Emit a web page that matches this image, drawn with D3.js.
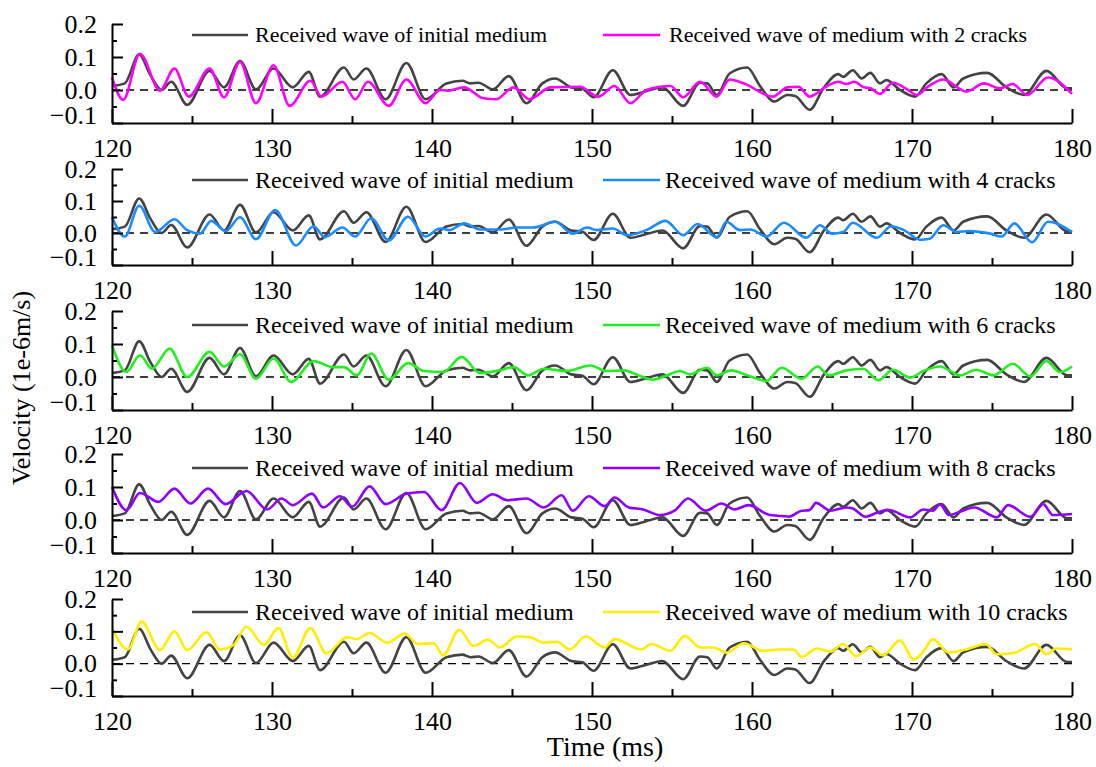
<!DOCTYPE html>
<html>
<head>
<meta charset="utf-8">
<script src="https://cdn.jsdelivr.net/npm/d3@7"></script>
<style>
  body { margin: 0; background: #fff; }
  text { font-family: "Liberation Serif", "Times New Roman", serif; fill: #000; }
</style>
</head>
<body>
<svg id="chart" width="1096" height="767"></svg>
<script>
// axis values
const timeDomain = [120, 180];
const velocityDomain = [-0.1, 0.2];
const timeTicks = [120, 130, 140, 150, 160, 170, 180];
const timeMinorTicks = [125, 135, 145, 155, 165, 175];
const velocityTicks = [-0.1, 0.0, 0.1, 0.2];
const velocityMinorTicks = [-0.05, 0.05, 0.15];

// received wave of initial medium [time ms, velocity 1e-6 m/s]
const initialWave = [
  [120, 0.012], [120.8, 0.02], [121.7, 0.108], [122.4, 0.045], [123.1, 0.0], [123.7, 0.025],
  [124.7, -0.045], [126.1, 0.058], [127.0, 0.008], [128.0, 0.088], [129.0, 0.002], [130.1, 0.065],
  [131.3, 0.008], [132.3, 0.055], [133.0, -0.02], [134.5, 0.068], [135.1, 0.032], [135.9, 0.065],
  [137.1, -0.028], [138.4, 0.082], [139.6, -0.028], [140.9, 0.02], [141.9, 0.028], [142.4, 0.02],
  [142.9, 0.022], [143.8, 0.002], [144.8, 0.042], [145.9, -0.04], [146.9, 0.02], [147.7, 0.035],
  [148.7, 0.008], [149.4, 0.004], [150.1, -0.022], [151.3, 0.06], [152.4, -0.015], [153.3, -0.005],
  [154.4, 0.008], [155.7, -0.048], [156.75, 0.022], [157.2, 0.02], [157.8, -0.015], [158.6, 0.05],
  [159.7, 0.068], [160.5, 0.012], [161.4, -0.035], [162.2, -0.015], [162.7, -0.018], [163.6, -0.06],
  [164.5, 0.008], [165.4, 0.048], [165.7, 0.04], [166.3, 0.06], [166.85, 0.035], [167.4, 0.052],
  [168.0, 0.02], [168.4, 0.03], [169.25, 0.0], [170.2, -0.02], [170.9, 0.02], [171.85, 0.048],
  [172.6, 0.008], [173.2, 0.035], [174.7, 0.052], [175.9, 0.008], [177.0, -0.015], [178.4, 0.058],
  [179.7, 0.005], [180, 0.005]
];

const crack2Wave = [
  [120, 0.038], [120.7, -0.03], [121.75, 0.11], [123.0, -0.002], [123.9, 0.065], [124.8, -0.02],
  [126.1, 0.065], [127.0, -0.022], [128.0, 0.085], [129.0, -0.04], [130.1, 0.075], [131.1, -0.048],
  [132.4, 0.028], [133.1, -0.02], [134.4, 0.025], [135.2, -0.028], [136.0, 0.025], [137.3, -0.048],
  [138.4, 0.032], [139.6, -0.04], [140.5, 0.0], [141.0, -0.002], [142.0, 0.008], [143.2, -0.025],
  [144.0, -0.028], [145.1, 0.008], [146.1, -0.028], [147.4, 0.008], [149.25, 0.01], [150.4, -0.02],
  [151.4, 0.012], [152.4, -0.04], [153.4, 0.0], [154.9, 0.012], [155.7, -0.022], [156.75, 0.025],
  [157.8, -0.02], [158.6, 0.032], [159.5, 0.02], [161.3, -0.02], [162.2, 0.008], [162.9, 0.01],
  [163.6, -0.02], [164.7, 0.012], [165.4, 0.025], [165.9, 0.018], [166.4, 0.025], [167.0, 0.008],
  [167.4, 0.005], [168.0, -0.012], [168.8, 0.022], [169.7, 0.002], [170.3, -0.015], [171.0, 0.01],
  [171.95, 0.032], [173.4, -0.005], [174.5, 0.02], [175.5, 0.005], [176.3, 0.018], [177.2, -0.015],
  [178.5, 0.038], [180, -0.012]
];

const crack4Wave = [
  [120, 0.049], [120.8, -0.011], [121.7, 0.085], [122.7, 0.003], [123.9, 0.043], [124.7, 0.009],
  [125.5, -0.002], [126.2, 0.038], [127.1, 0.006], [128.0, 0.049], [129.0, -0.019], [130.2, 0.072],
  [131.5, -0.039], [132.6, 0.021], [133.3, -0.013], [134.4, 0.017], [135.2, -0.011], [136.2, 0.046],
  [137.3, -0.023], [138.5, 0.051], [139.6, -0.011], [140.5, 0.014], [141.1, 0.009], [142.0, 0.03],
  [143.0, 0.011], [144.3, 0.011], [145.3, 0.017], [146.3, 0.017], [147.7, 0.035], [148.8, -0.002],
  [149.7, 0.017], [150.3, 0.009], [151.3, 0.014], [152.2, -0.007], [153.4, 0.009], [154.6, 0.038],
  [155.7, -0.007], [156.6, 0.028], [157.8, -0.013], [158.4, 0.035], [159.25, 0.009], [159.9, 0.011],
  [160.9, -0.011], [162.0, 0.032], [163.4, -0.015], [164.25, 0.024], [165.0, -0.002], [165.7, 0.003],
  [166.3, 0.032], [167.8, -0.015], [168.7, 0.021], [169.5, 0.009], [170.5, -0.021], [171.1, -0.018],
  [171.95, 0.024], [172.8, 0.003], [173.6, 0.006], [174.9, -0.002], [175.6, -0.011], [176.4, 0.03],
  [177.5, -0.029], [178.5, 0.035], [180, 0.003]
];

const crack6Wave = [
  [120, 0.096], [120.9, 0.015], [121.75, 0.066], [122.5, 0.025], [123.6, 0.086], [124.7, 0.0],
  [126.1, 0.076], [127.0, 0.032], [128.0, 0.069], [129.0, -0.005], [130.1, 0.056], [131.2, -0.015],
  [132.6, 0.048], [133.8, 0.03], [134.5, 0.03], [135.3, 0.005], [136.2, 0.071], [137.3, -0.008],
  [138.5, 0.042], [139.5, 0.018], [140.7, 0.015], [141.85, 0.061], [143.0, 0.012], [144.2, 0.02],
  [145.1, 0.03], [146.0, 0.005], [147.0, 0.025], [148.4, 0.018], [149.9, 0.035], [150.9, 0.018],
  [152.0, 0.02], [152.9, 0.005], [153.8, -0.008], [154.7, 0.005], [155.5, 0.018], [156.1, 0.008],
  [157.2, 0.028], [157.8, 0.005], [158.7, 0.02], [159.7, 0.005], [160.9, -0.012], [161.85, 0.028],
  [163.1, -0.005], [164.1, 0.032], [164.8, 0.005], [165.9, 0.02], [166.95, 0.025], [167.9, -0.01],
  [168.8, 0.022], [169.9, -0.002], [170.7, 0.018], [171.75, 0.032], [173.0, 0.005], [174.0, 0.022],
  [175.1, 0.005], [176.3, 0.04], [177.4, 0.002], [178.4, 0.048], [179.25, 0.015], [180, 0.032]
];

const crack8Wave = [
  [120, 0.1], [120.9, 0.03], [121.75, 0.082], [122.9, 0.055], [123.9, 0.095], [124.9, 0.05],
  [126.0, 0.095], [127.1, 0.048], [128.4, 0.088], [129.7, 0.032], [130.6, 0.065], [131.3, 0.045],
  [132.5, 0.08], [133.2, 0.038], [134.25, 0.072], [135.0, 0.04], [136.1, 0.102], [137.1, 0.048],
  [138.4, 0.08], [139.5, 0.085], [140.6, 0.03], [141.75, 0.112], [142.8, 0.052], [143.8, 0.078],
  [144.7, 0.06], [145.9, 0.065], [147.0, 0.038], [148.1, 0.075], [148.8, 0.028], [149.8, 0.072],
  [150.8, 0.042], [151.4, 0.068], [152.3, 0.038], [153.2, 0.032], [154.25, 0.015], [155.2, 0.03],
  [156.0, 0.065], [157.1, 0.028], [158.1, 0.05], [158.9, 0.032], [159.8, 0.045], [161.1, 0.015],
  [161.9, 0.012], [162.3, 0.01], [163.1, 0.028], [163.6, 0.03], [164.0, 0.052], [164.9, 0.028],
  [165.9, 0.038], [166.3, 0.035], [167.1, 0.01], [167.8, 0.022], [168.5, 0.031], [169.9, 0.008],
  [170.7, 0.032], [171.3, 0.028], [171.75, 0.048], [172.3, 0.015], [173.0, 0.025], [173.9, 0.038],
  [175.3, 0.008], [176.0, 0.045], [177.4, 0.01], [178.2, 0.048], [178.8, 0.015], [180, 0.018]
];

const crack10Wave = [
  [120, 0.11], [121.0, 0.044], [121.85, 0.13], [123.0, 0.042], [123.9, 0.1], [124.7, 0.042],
  [125.9, 0.097], [126.75, 0.044], [127.6, 0.058], [128.4, 0.114], [129.5, 0.058], [130.4, 0.11],
  [131.3, 0.019], [132.4, 0.11], [133.4, 0.032], [134.7, 0.082], [135.3, 0.076], [136.1, 0.095],
  [137.2, 0.065], [138.3, 0.093], [139.1, 0.061], [140.1, 0.063], [140.7, 0.026], [141.7, 0.105],
  [142.6, 0.055], [143.5, 0.074], [144.25, 0.05], [145.3, 0.084], [146.1, 0.082], [147.0, 0.065],
  [147.8, 0.068], [148.6, 0.044], [149.6, 0.084], [150.8, 0.05], [151.4, 0.076], [153.1, 0.044],
  [153.7, 0.061], [154.9, 0.04], [155.8, 0.086], [156.75, 0.05], [157.6, 0.05], [158.4, 0.034],
  [159.5, 0.063], [160.7, 0.04], [161.75, 0.044], [162.6, 0.044], [163.1, 0.021], [164.05, 0.047],
  [164.9, 0.037], [165.7, 0.061], [166.5, 0.023], [167.4, 0.05], [168.2, 0.026], [169.25, 0.072],
  [170.1, 0.013], [170.7, 0.037], [171.3, 0.076], [172.3, 0.034], [173.4, 0.044], [174.6, 0.061],
  [175.3, 0.029], [176.3, 0.032], [177.7, 0.061], [178.4, 0.029], [179.0, 0.047], [180, 0.044]
];

const crackCounts = [2, 4, 6, 8, 10];
const crackWaves = [crack2Wave, crack4Wave, crack6Wave, crack8Wave, crack10Wave];
const crackColors = ["#ff00ff", "#1a8cff", "#22ee22", "#9000ff", "#ffee00"];
const initialLabel = "Received wave of initial medium";

// layout of the five stacked panels
const plotLeft = 112, plotRight = 1072;
const panelTops = [24, 169, 311, 454, 599];
const panelHeights = [99, 96, 99, 99, 97];
const legendOffsets = [11, 11, 14, 14, 13];
const legendFonts = [22, 24, 24, 24, 24];

const svg = d3.select("#chart");

const x = d3.scaleLinear().domain(timeDomain).range([plotLeft, plotRight]);

crackCounts.forEach((count, i) => {
  const top = panelTops[i];
  const bottom = top + panelHeights[i];
  const y = d3.scaleLinear().domain(velocityDomain).range([bottom, top]);
  const g = svg.append("g").attr("class", "panel");

  // dashed zero reference
  g.append("line")
    .attr("x1", x(timeDomain[0])).attr("x2", x(timeDomain[1]))
    .attr("y1", y(0)).attr("y2", y(0))
    .attr("stroke", "#000")
    .attr("stroke-width", 1.3)
    .attr("stroke-dasharray", "8,6");

  const line = d3.line()
    .x(d => x(d[0]))
    .y(d => y(d[1]))
    .curve(d3.curveMonotoneX);

  g.append("path")
    .datum(initialWave)
    .attr("d", line)
    .attr("fill", "none")
    .attr("stroke", "#434343")
    .attr("stroke-width", 2.6);

  g.append("path")
    .datum(crackWaves[i])
    .attr("d", line)
    .attr("fill", "none")
    .attr("stroke", crackColors[i])
    .attr("stroke-width", 2.6);

  // left axis (ticks inward)
  const yAxis = g.append("g")
    .attr("transform", `translate(${plotLeft},0)`)
    .call(d3.axisLeft(y).tickValues(velocityTicks).tickSize(-11).tickSizeOuter(0)
      .tickPadding(15).tickFormat(d => d3.format(".1f")(d).replace("-", "\u2212")));
  yAxis.call(a => a.selectAll("text").style("font-size", "26px")
    .attr("dy", d => d === -0.1 ? "0.0em" : "0.32em"));
  g.append("g")
    .attr("transform", `translate(${plotLeft},0)`)
    .call(d3.axisLeft(y).tickValues(velocityMinorTicks).tickSize(-5).tickSizeOuter(0).tickFormat(""))
    .call(a => a.select(".domain").remove());

  // bottom axis (ticks inward)
  g.append("g")
    .attr("transform", `translate(0,${bottom})`)
    .call(d3.axisBottom(x).tickValues(timeTicks).tickSize(-14).tickSizeOuter(0).tickPadding(16))
    .call(a => a.selectAll("text").style("font-size", "26px"));
  g.append("g")
    .attr("transform", `translate(0,${bottom})`)
    .call(d3.axisBottom(x).tickValues(timeMinorTicks).tickSize(-7).tickSizeOuter(0).tickFormat(""))
    .call(a => a.select(".domain").remove());

  g.selectAll(".domain, .tick line").attr("stroke", "#000").attr("stroke-width", 2);

  // legend
  const ly = top + legendOffsets[i];
  const fs = legendFonts[i];
  g.append("line").attr("x1", 192).attr("x2", 248).attr("y1", ly).attr("y2", ly)
    .attr("stroke", "#434343").attr("stroke-width", 2.6);
  g.append("text").attr("x", 255).attr("y", ly).attr("dy", "0.33em")
    .style("font-size", fs + "px").text(initialLabel);
  g.append("line").attr("x1", 603).attr("x2", 660).attr("y1", ly).attr("y2", ly)
    .attr("stroke", crackColors[i]).attr("stroke-width", 2.6);
  g.append("text").attr("x", i === 0 ? 669 : 665).attr("y", ly).attr("dy", "0.33em")
    .style("font-size", fs + "px").text(`Received wave of medium with ${count} cracks`);
});

// axis titles
svg.append("text")
  .attr("transform", "translate(30,388) rotate(-90)")
  .attr("text-anchor", "middle")
  .style("font-size", "26px")
  .text("Velocity (1e-6m/s)");

svg.append("text")
  .attr("x", 605).attr("y", 756)
  .attr("text-anchor", "middle")
  .style("font-size", "28px")
  .text("Time (ms)");
</script>
</body>
</html>
